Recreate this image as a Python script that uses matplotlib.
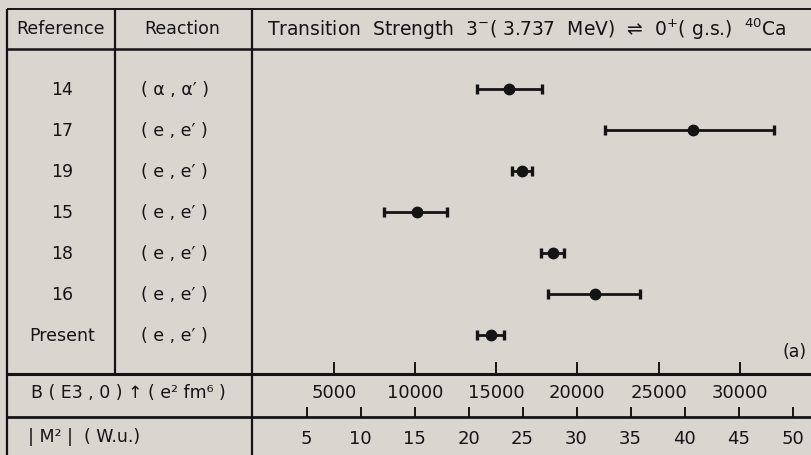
import matplotlib
matplotlib.use("Agg")
import matplotlib.pyplot as plt
from matplotlib.lines import Line2D

# ---------------- data ----------------
references = ["14", "17", "19", "15", "18", "16", "Present"]
reactions = ["( α , α′ )", "( e , e′ )", "( e , e′ )", "( e , e′ )",
             "( e , e′ )", "( e , e′ )", "( e , e′ )"]
b_values = [15800, 27100, 16600, 10100, 18500, 21100, 14700]
b_err_low = [2000, 5400, 600, 2000, 750, 2900, 850]
b_err_high = [2000, 5000, 600, 1850, 700, 2750, 800]
b_ticks = [5000, 10000, 15000, 20000, 25000, 30000]
m_ticks = [5, 10, 15, 20, 25, 30, 35, 40, 45, 50]
WU_FACTOR = 665.0          # e^2 fm^6 per W.u. (B up)
B_MAX = 34450.0

BG = "#d9d5cf"
INK = "#141414"
W, H = 812, 456

def fx(px):
    return px / W

def fy(py):
    return 1 - py / H

fig = plt.figure(figsize=(W / 100, H / 100), dpi=100, facecolor=BG)
plt.rcParams["font.family"] = ["DejaVu Sans"]

# ---------------- table grid ----------------
def hline(py, x0, x1, lw=1.6):
    fig.add_artist(Line2D([fx(x0), fx(x1)], [fy(py), fy(py)], color=INK, lw=lw,
                          transform=fig.transFigure, solid_capstyle="butt"))

def vline(px, y0, y1, lw=1.6):
    fig.add_artist(Line2D([fx(px), fx(px)], [fy(y0), fy(y1)], color=INK, lw=lw,
                          transform=fig.transFigure, solid_capstyle="butt"))

X_LEFT, X_COL1, X_COL2 = 7, 115, 252.5
Y_TOP, Y_HEAD, Y_DATA, Y_BROW = 10, 49.5, 374.5, 417.5

hline(Y_TOP, X_LEFT, W, 1.4)
hline(Y_HEAD, X_LEFT, W, 1.8)
hline(Y_DATA, X_LEFT, W, 2.2)
hline(Y_BROW, X_LEFT, W, 2.0)
vline(X_LEFT, Y_TOP, H, 1.6)
vline(X_COL1, Y_TOP, Y_DATA, 1.6)
vline(X_COL2, Y_TOP, H, 1.6)

# ---------------- header ----------------
FS = 12.5
fig.text(fx(61), fy(29.5), "Reference", ha="center", va="center", fontsize=FS, color=INK)
fig.text(fx(182), fy(29.5), "Reaction", ha="center", va="center", fontsize=FS, color=INK)
fig.text(fx(267), fy(29.5),
         r"Transition  Strength  $3^{-}$( 3.737  MeV)  ⇌  $0^{+}$( g.s.)  $^{40}$Ca",
         ha="left", va="center", fontsize=13.5, color=INK)

# ---------------- data axes ----------------
ax = fig.add_axes([fx(X_COL2), fy(Y_DATA), fx(W) - fx(X_COL2), fy(Y_HEAD) - fy(Y_DATA)])
ax.set_facecolor("none")
for s in ax.spines.values():
    s.set_visible(False)
ax.set_xlim(0, B_MAX)
ax.set_ylim(6.94, -0.988)
rows = list(range(len(references)))
ax.errorbar(b_values, rows, xerr=[b_err_low, b_err_high], fmt="o", color=INK,
            ms=7.5, elinewidth=2.0, capsize=3.4, capthick=2.4)
ax.set_xticks(b_ticks)
ax.set_xticklabels([str(t) for t in b_ticks])
ax.tick_params(axis="x", direction="in", length=9, width=1.4, pad=7,
               labelsize=13, colors=INK)
ax.set_yticks([])

# row labels
for i, (r, re) in enumerate(zip(references, reactions)):
    yy = ax.transData.transform((0, i))[1]
    yf = fig.transFigure.inverted().transform((0, yy))[1]
    fig.text(fx(62), yf, r, ha="center", va="center", fontsize=FS, color=INK)
    fig.text(fx(141), yf, re, ha="left", va="center", fontsize=FS, color=INK)

ax.text(0.99, 0.07, "(a)", transform=ax.transAxes, ha="right", va="center",
        fontsize=FS, color=INK)

# ---------------- |M^2| axis ----------------
axm = fig.add_axes([fx(X_COL2), fy(Y_BROW), fx(W) - fx(X_COL2), fy(Y_DATA) - fy(Y_BROW)])
axm.set_facecolor("none")
for s in axm.spines.values():
    s.set_visible(False)
axm.set_xlim(0, B_MAX / WU_FACTOR)
axm.set_xticks(m_ticks)
axm.set_xticklabels([str(t) for t in m_ticks])
axm.set_yticks([])
axm.tick_params(axis="x", direction="in", length=7, width=1.4, pad=9,
                labelsize=13, colors=INK)

# row titles for scales
fig.text(fx(31), fy(393), "B ( E3 , 0 ) ↑ ( e² fm⁶ )", ha="left", va="center",
         fontsize=FS, color=INK)
fig.text(fx(28), fy(437), "| M² |  ( W.u.)", ha="left", va="center",
         fontsize=FS, color=INK)

fig.savefig("out.png", dpi=100, facecolor=BG)
